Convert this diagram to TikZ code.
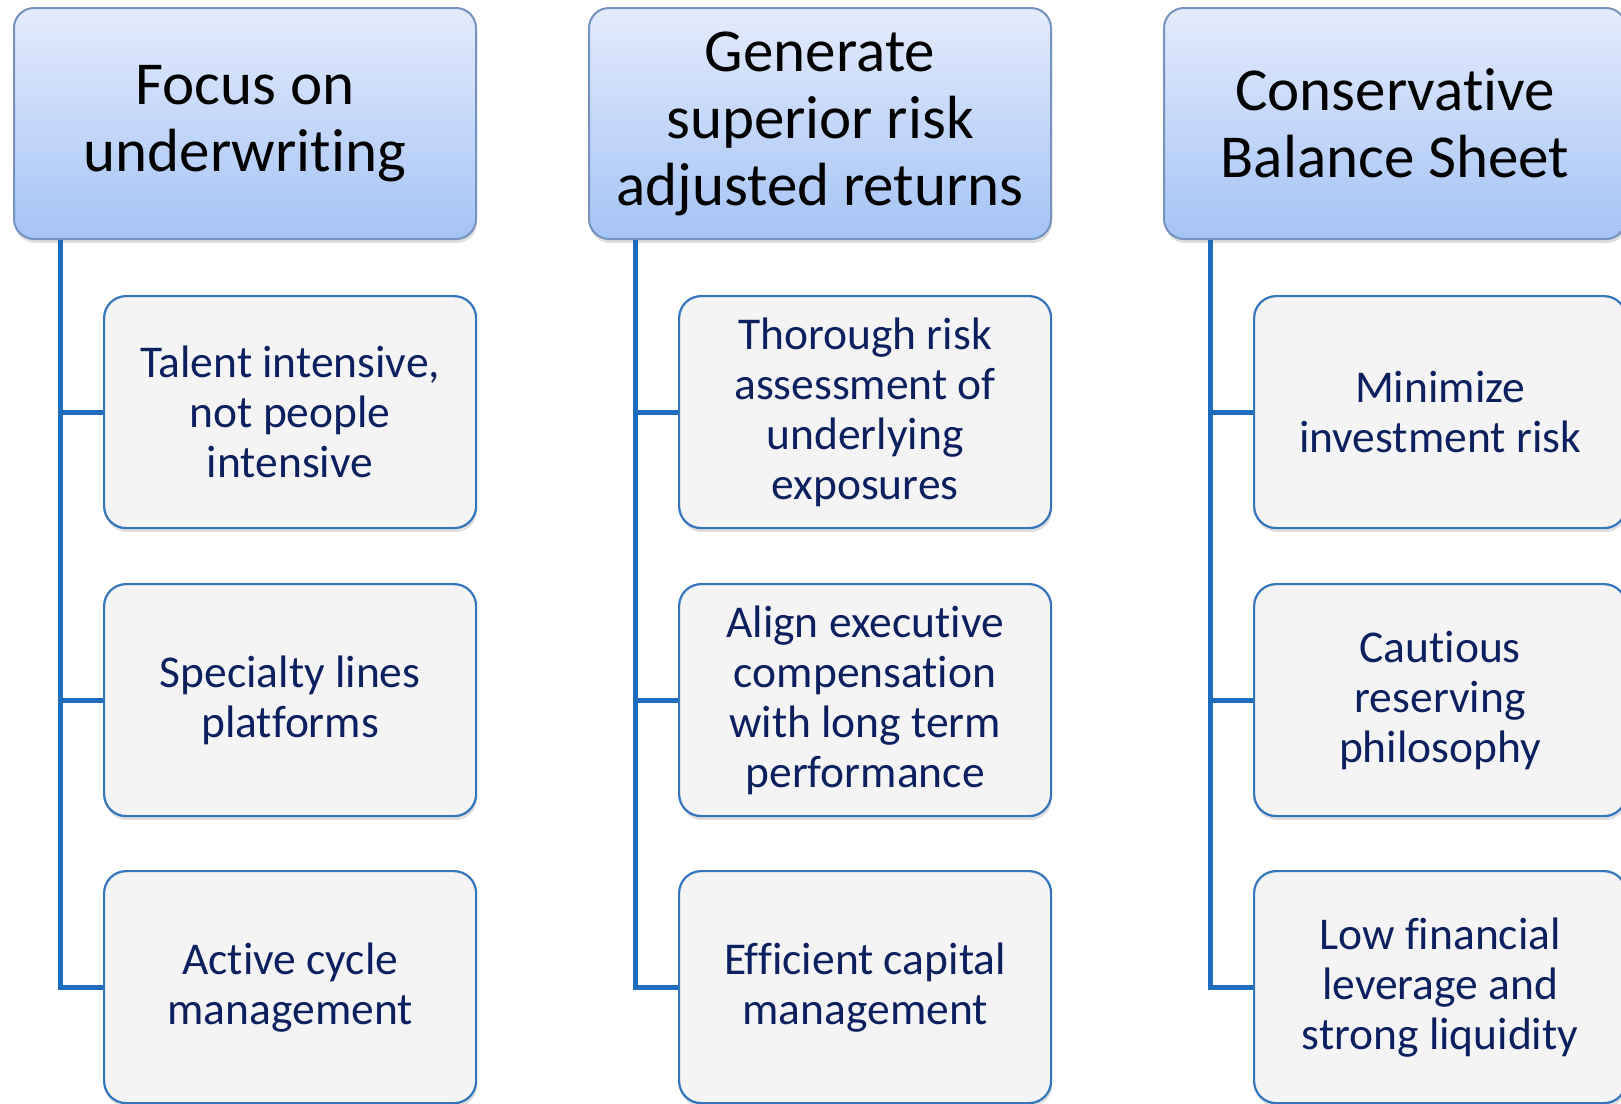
\documentclass[tikz,border=0pt]{standalone}
\usepackage{fontspec}
\setmainfont[RawFeature={-liga;-clig;-calt;-dlig;-rlig}]{Carlito}
\usetikzlibrary{positioning, shadows}
\definecolor{headtop}{RGB}{228,235,252}
\definecolor{headbot}{RGB}{164,196,246}
\definecolor{headrim}{RGB}{118,146,190}
\definecolor{itemfill}{RGB}{244,244,244}
\definecolor{itemrim}{RGB}{52,118,188}
\definecolor{itemtext}{RGB}{12,32,96}
\definecolor{linkblue}{RGB}{30,108,188}
% keep t and i apart (no ligature)
\newcommand{\ti}{t\kern0pt i}

\begin{document}
\begin{tikzpicture}[x=1pt, y=-1pt,
    head/.style={draw=headrim, line width=2pt, rounded corners=20pt,
        top color=headtop, bottom color=headbot, anchor=north west,
        minimum width=462pt, minimum height=231pt, align=center,
        font=\fontsize{61}{67}\selectfont,
        drop shadow={shadow xshift=1pt, shadow yshift=-4pt, opacity=0.25}},
    item/.style={draw=itemrim, line width=2.2pt, rounded corners=22pt,
        fill=itemfill, anchor=north west, text=itemtext,
        minimum width=372pt, minimum height=232pt, align=center,
        font=\fontsize{45.5}{50}\selectfont,
        drop shadow={shadow xshift=1pt, shadow yshift=-4pt, opacity=0.25}},
    link/.style={draw=linkblue, line width=5pt}]
\clip (0,0) rectangle (1621,1103);
\useasboundingbox (0,0) rectangle (1621,1103);

% Column headers
\node[head] (h1) at (13,7) {Focus on\\underwri\ti ng};
\node[head] (h2) at (588,7) {Generate\\superior risk\\adjusted returns};
\node[head] (h3) at (1163,7) {Conserva\ti ve\\Balance Sheet};

% First column
\node[item] (c11) at (103,295) {Talent intensive,\\not people\\intensive};
\node[item] (c12) at (103,583) {Specialty lines\\platforms};
\node[item] (c13) at (103,870) {Ac\ti ve cycle\\management};

% Second column
\node[item] (c21) at (678,295) {Thorough risk\\assessment of\\underlying\\exposures};
\node[item] (c22) at (678,583) {Align execu\ti ve\\compensa\ti on\\with long term\\performance};
\node[item] (c23) at (678,870) {Efficient capital\\management};

% Third column
\node[item] (c31) at (1253,295) {Minimize\\investment risk};
\node[item] (c32) at (1253,583) {Cau\ti ous\\reserving\\philosophy};
\node[item] (c33) at (1253,870) {Low financial\\leverage and\\strong liquidity};

% Connectors
\foreach \col in {1,2,3} {
    \coordinate (t\col) at ([xshift=47pt]h\col.south west);
    \draw[link] (t\col) |- (c\col3.west);
    \draw[link] (t\col |- c\col1.west) -- (c\col1.west);
    \draw[link] (t\col |- c\col2.west) -- (c\col2.west);
}

\end{tikzpicture}
\end{document}
